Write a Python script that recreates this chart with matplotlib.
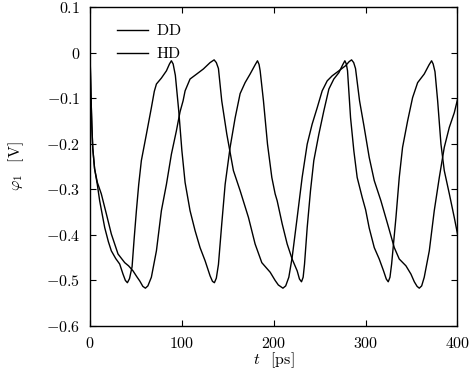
import matplotlib
matplotlib.use("Agg")
import matplotlib.pyplot as plt

plt.rcParams['font.family'] = 'serif'
plt.rcParams['font.serif'] = ['cmr10']
plt.rcParams['mathtext.fontset'] = 'cm'
plt.rcParams['axes.unicode_minus'] = False

# ---- data ----
t_dd = [0, 1, 2, 3, 5, 8, 10.5, 16, 20, 23.2, 28, 32.3, 35.9, 38.5, 40.7, 43, 45.8, 48,
        50.5, 53, 55.9, 61.4, 66.8, 70, 72.3, 77.7, 83.2, 86.5, 88.6, 90.5, 92.9, 96.6,
        100, 103.5, 108.9, 114.4, 119.8, 125.3, 130.7, 133.3, 135.4, 137.5, 139.8, 143.4,
        147.1, 152.5, 158, 163.4, 168.8, 174.3, 179.7, 182.3, 184, 185.2, 188.8, 193.2,
        197.9, 201.5, 203.7, 209.2, 214.6, 220, 225.5, 228, 230.2, 232, 233.5, 236.4, 240,
        243.6, 249.1, 254.5, 260, 265.4, 270.9, 275, 277.4, 279, 280.3, 283.6, 287.2,
        290.8, 296.3, 300, 303.9, 309.4, 314.8, 319.5, 322.5, 324.6, 326.5, 328.3, 333,
        336.6, 340.2, 345.7, 351.1, 356.6, 363.8, 369, 371.8, 373.5, 375.5, 378.4, 382,
        385.6, 391.1, 396.5, 400]
v_dd = [0, -0.09, -0.16, -0.21, -0.255, -0.29, -0.325, -0.384, -0.415, -0.435, -0.452,
        -0.464, -0.486, -0.500, -0.505, -0.496, -0.47, -0.41, -0.347, -0.29, -0.237,
        -0.179, -0.121, -0.085, -0.069, -0.056, -0.040, -0.025, -0.018, -0.025, -0.05,
        -0.128, -0.215, -0.285, -0.347, -0.391, -0.428, -0.457, -0.49, -0.502, -0.505,
        -0.495, -0.465, -0.376, -0.289, -0.208, -0.143, -0.090, -0.066, -0.047, -0.027,
        -0.018, -0.026, -0.04, -0.106, -0.201, -0.274, -0.31, -0.325, -0.376, -0.42,
        -0.453, -0.479, -0.497, -0.503, -0.493, -0.464, -0.384, -0.303, -0.237, -0.179,
        -0.128, -0.08, -0.058, -0.044, -0.027, -0.018, -0.025, -0.040, -0.143, -0.216,
        -0.274, -0.318, -0.345, -0.385, -0.428, -0.453, -0.479, -0.497, -0.503, -0.493,
        -0.464, -0.362, -0.274, -0.208, -0.150, -0.099, -0.066, -0.047, -0.027, -0.018,
        -0.025, -0.042, -0.106, -0.201, -0.259, -0.31, -0.362, -0.398]

t_hd = [0, 1, 2, 3, 5, 8, 12.3, 17.8, 23.2, 30.5, 37.8, 42, 46.8, 51, 54.1, 57.5, 60.3,
        63, 66.8, 72.3, 77.7, 83.2, 88.6, 94, 98, 101.3, 103.5, 108.9, 116.2, 123.4,
        130.7, 135.1, 137.5, 139.8, 143.4, 148.9, 156.1, 163.4, 172.5, 179.7, 187, 196.1,
        201.5, 205, 210, 213, 216.4, 220, 225.5, 230.9, 236.4, 241.8, 247.3, 252.7, 258.2,
        263.6, 270.9, 278.1, 282, 284.7, 287, 289, 293.4, 298.1, 303.9, 309.4, 316.6,
        323.9, 331.2, 336.6, 343.9, 349.3, 353, 356, 358.4, 361, 363.8, 369.3, 374.7,
        380.2, 385.6, 391.1, 396.5, 400]
v_hd = [0, -0.09, -0.16, -0.21, -0.255, -0.285, -0.31, -0.354, -0.398, -0.442, -0.461,
        -0.468, -0.479, -0.492, -0.501, -0.513, -0.517, -0.512, -0.493, -0.435, -0.347,
        -0.289, -0.223, -0.172, -0.130, -0.106, -0.084, -0.058, -0.047, -0.036, -0.022,
        -0.016, -0.022, -0.035, -0.106, -0.179, -0.259, -0.303, -0.362, -0.42, -0.461,
        -0.482, -0.5, -0.51, -0.517, -0.512, -0.493, -0.45, -0.362, -0.274, -0.201,
        -0.157, -0.121, -0.084, -0.062, -0.051, -0.040, -0.029, -0.02, -0.016, -0.022,
        -0.035, -0.106, -0.160, -0.23, -0.281, -0.325, -0.376, -0.428, -0.453, -0.468,
        -0.486, -0.503, -0.513, -0.517, -0.512, -0.493, -0.435, -0.347, -0.274, -0.208,
        -0.164, -0.132, -0.103]

xticks = [0, 100, 200, 300, 400]
xtick_labels = ["0", "100", "200", "300", "400"]
yticks = [0.1, 0, -0.1, -0.2, -0.3, -0.4, -0.5, -0.6]
ytick_labels = ["0.1", "0", "-0.1", "-0.2", "-0.3", "-0.4", "-0.5", "-0.6"]
series_names = ["DD", "HD"]

fig = plt.figure(figsize=(4.7, 3.78), dpi=100)
ax = fig.add_axes([90/470, 1-326/378, (457.5-90)/470, (326-7)/378])

ax.plot(t_dd, v_dd, color='black', lw=1.0, label=series_names[0])
ax.plot(t_hd, v_hd, color='black', lw=1.0, label=series_names[1])

ax.set_xlim(0, 400)
ax.set_ylim(-0.6, 0.1)
ax.set_xticks(xticks)
ax.set_xticklabels(["$%s$" % s for s in xtick_labels])
ax.set_yticks(yticks)
ax.set_yticklabels(["$%s$" % s for s in ytick_labels])
ax.tick_params(direction='in', top=True, right=True, length=4, width=0.8,
               labelsize=11.5, pad=7)
for s in ax.spines.values():
    s.set_linewidth(1.0)

ax.set_xlabel(r"$t\ \ \,[\mathrm{ps}]$", fontsize=11.5, labelpad=0)
ax.set_ylabel(r"$\varphi_1\ \ \,[\mathrm{V}]$", fontsize=11.5, labelpad=14)

leg = ax.legend(loc='upper left', frameon=False, fontsize=11.5,
                handlelength=1.95, handletextpad=0.5, labelspacing=0.5,
                bbox_to_anchor=(0.034, 0.994))
for txt in leg.get_texts():
    txt.set_text("$\\mathrm{%s}$" % txt.get_text())

fig.savefig("out.png", dpi=100)
